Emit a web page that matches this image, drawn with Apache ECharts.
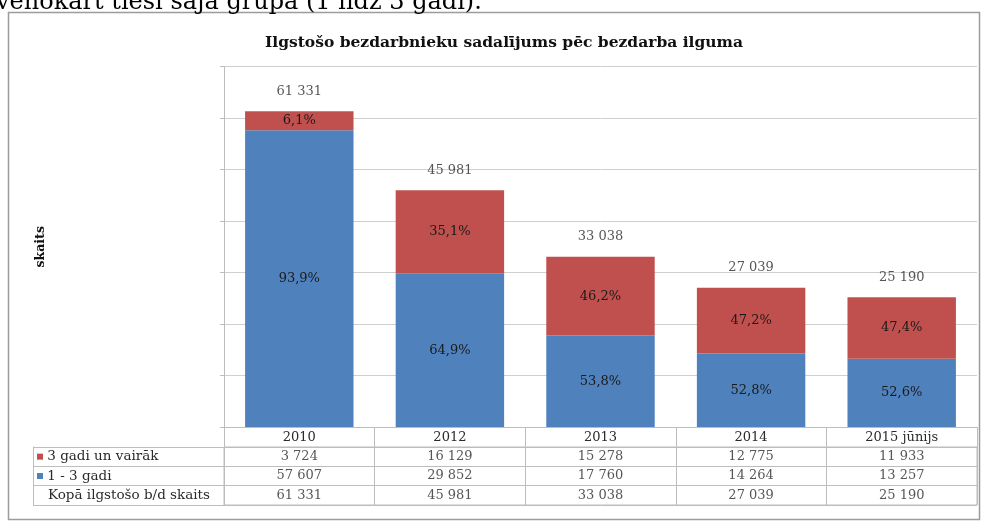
<!DOCTYPE html>
<html>
<head>
<meta charset="utf-8">
<script src="https://cdn.jsdelivr.net/npm/echarts@6/dist/echarts.min.js"></script>
<style>
  html, body { margin: 0; padding: 0; background: #fff; }
  #chart { width: 987px; height: 526px; }
</style>
</head>
<body>
<div id="chart"></div>
<script>
// dati no attēla
var categories = ["2010", "2012", "2013", "2014", "2015 jūnijs"];
var longTerm = [3724, 16129, 15278, 12775, 11933];   // 3 gadi un vairāk
var midTerm = [57607, 29852, 17760, 14264, 13257];   // 1 - 3 gadi
var totals = [61331, 45981, 33038, 27039, 25190];    // kopā
var rowNames = ["3 gadi un vairāk", "1 - 3 gadi", "Kopā ilgstošo b/d skaits"];

var BLUE = "#4F81BD";
var RED = "#C0504D";
var LINE = "#bdbdbd";
var FONT = "DejaVu Serif";
var TXT = "#2a2a2a";

function fmt(n) {
  return String(n).replace(/\B(?=(\d{3})+(?!\d))/g, " ");
}
function pct(v, i) {
  return (v / totals[i] * 100).toFixed(1).replace(".", ",") + "%";
}

// tabulas šūnas
var rows = [longTerm, midTerm, totals];
var cells = [];
rows.forEach(function (arr, r) {
  arr.forEach(function (v, c) {
    cells.push([categories[c], rowNames[r], v]);
  });
});

var myChart = echarts.init(document.getElementById("chart"));
var option = {
  animation: false,
  textStyle: { fontFamily: FONT },
  title: {
    text: "Ilgstošo bezdarbnieku sadalījums pēc bezdarba ilguma",
    left: 499,
    textAlign: "center",
    top: 30,
    textStyle: { fontFamily: FONT, fontSize: 15.5, fontWeight: "bold", color: "#111" },
  },
  graphic: [
    {
      type: "rect",
      shape: { x: 8.5, y: 12.5, width: 971, height: 507 },
      style: { fill: "none", stroke: "#9c9c9c", lineWidth: 1.5 },
    },
    {
      type: "text",
      left: -4,
      top: -9,
      style: {
        text: "venokārt tieši šajā grupā (1 līdz 3 gadi).",
        font: "24px 'DejaVu Serif'",
        fill: "#000",
      },
    },
  ],
  grid: [
    { left: 224, right: 10, top: 66.5, bottom: 99 },
    { left: 224, right: 10, top: 447, height: 58, show: true, borderColor: LINE, borderWidth: 1 },
  ],
  xAxis: [
    {
      type: "category",
      gridIndex: 0,
      data: categories,
      axisLine: { lineStyle: { color: LINE } },
      axisTick: { show: true, length: 20, lineStyle: { color: LINE } },
      axisLabel: { fontFamily: FONT, fontSize: 13, color: TXT, margin: 4 },
    },
    {
      type: "category",
      gridIndex: 1,
      data: categories,
      axisLine: { show: false },
      axisTick: { show: false },
      axisLabel: { show: false },
      splitLine: { show: true, lineStyle: { color: LINE } },
    },
  ],
  yAxis: [
    {
      type: "value",
      gridIndex: 0,
      min: 0,
      max: 70000,
      interval: 10000,
      name: "skaits",
      nameLocation: "middle",
      nameRotate: 90,
      nameGap: 177,
      nameTextStyle: { fontFamily: FONT, fontSize: 12.5, fontWeight: "bold", color: "#111" },
      axisLabel: { show: false },
      axisLine: { show: true, lineStyle: { color: LINE } },
      axisTick: { show: true, length: 4, lineStyle: { color: LINE } },
      splitLine: { lineStyle: { color: "#cfcfcf" } },
    },
    {
      type: "category",
      gridIndex: 1,
      data: rowNames,
      inverse: true,
      axisLine: { show: true, lineStyle: { color: LINE } },
      axisTick: { show: true, length: 191, lineStyle: { color: LINE } },
      splitLine: { show: true, lineStyle: { color: LINE } },
      axisLabel: {
        margin: 187,
        align: "left",
        fontFamily: FONT,
        fontSize: 13.5,
        color: TXT,
        formatter: function (v, i) {
          if (i === 0) return "{r|}{t| " + v + "}";
          if (i === 1) return "{b|}{t| " + v + "}";
          return "{s|}{t|" + v + "}";
        },
        rich: {
          r: { width: 6, height: 6, backgroundColor: RED },
          b: { width: 6, height: 6, backgroundColor: BLUE },
          s: { width: 11 },
          t: { fontFamily: FONT, fontSize: 13.5, color: TXT },
        },
      },
    },
    {
      type: "category",
      gridIndex: 1,
      data: rowNames,
      inverse: true,
      position: "left",
      offset: 191,
      axisLine: { show: true, lineStyle: { color: LINE } },
      axisTick: { show: false },
      axisLabel: { show: false },
    },
  ],
  series: [
    {
      name: "1 - 3 gadi",
      type: "bar",
      stack: "kopa",
      xAxisIndex: 0,
      yAxisIndex: 0,
      barWidth: "72%",
      data: midTerm,
      itemStyle: { color: BLUE },
      label: {
        show: true,
        position: "inside",
        fontFamily: FONT,
        fontSize: 13,
        color: "#1a1a1a",
        formatter: function (p) { return pct(p.value, p.dataIndex); },
      },
    },
    {
      name: "3 gadi un vairāk",
      type: "bar",
      stack: "kopa",
      xAxisIndex: 0,
      yAxisIndex: 0,
      barWidth: "72%",
      data: longTerm,
      itemStyle: { color: RED },
      label: {
        show: true,
        position: "inside",
        fontFamily: FONT,
        fontSize: 13,
        color: "#1a1a1a",
        formatter: function (p) { return pct(p.value, p.dataIndex); },
      },
    },
    {
      name: "kopā",
      type: "scatter",
      xAxisIndex: 0,
      yAxisIndex: 0,
      symbolSize: 1,
      itemStyle: { color: "rgba(0,0,0,0)" },
      data: totals,
      label: {
        show: true,
        position: "top",
        distance: 13,
        fontFamily: FONT,
        fontSize: 13,
        color: TXT,
        formatter: function (p) { return fmt(p.value); },
      },
    },
    {
      name: "tabula",
      type: "scatter",
      xAxisIndex: 1,
      yAxisIndex: 1,
      symbolSize: 1,
      itemStyle: { color: "rgba(0,0,0,0)" },
      data: cells,
      label: {
        show: true,
        position: "inside",
        fontFamily: FONT,
        fontSize: 13,
        color: TXT,
        formatter: function (p) { return fmt(p.value[2]); },
      },
    },
  ],
};
myChart.setOption(option);
</script>
</body>
</html>
